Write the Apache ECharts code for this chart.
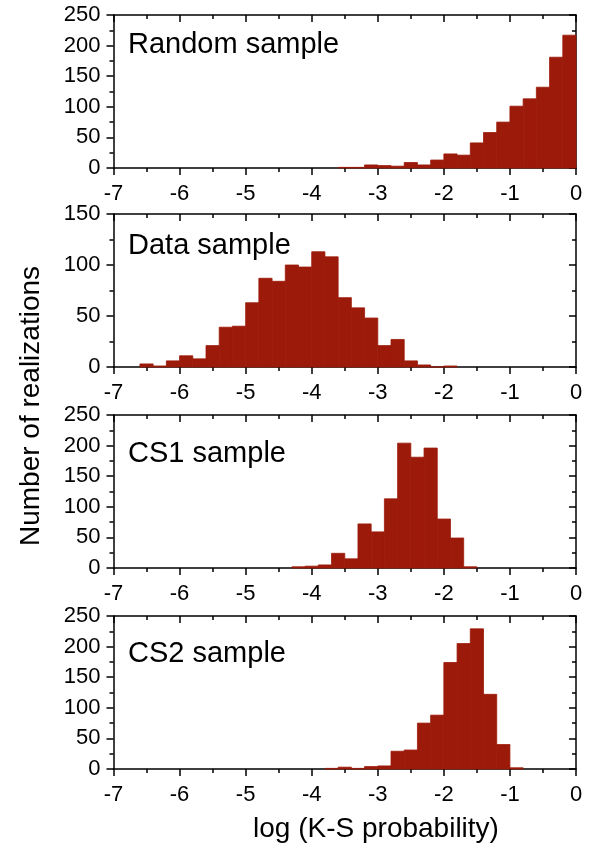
<!DOCTYPE html>
<html>
<head>
<meta charset="utf-8">
<title>K-S probability histograms</title>
<script src="https://cdn.jsdelivr.net/npm/echarts@6/dist/echarts.min.js"></script>
<style>
    html, body { margin: 0; padding: 0; background: #ffffff; }
    #grafico { width: 596px; height: 848px; }
</style>
</head>
<body>
<div id="grafico"></div>
<script>
// Datos (inicio de cada clase, ancho 0.2)
const anchoClase = 0.2;

const randomInicio = [-3.6, -3.4, -3.2, -3.0, -2.8, -2.6, -2.4, -2.2, -2.0, -1.8, -1.6, -1.4, -1.2, -1.0, -0.8, -0.6, -0.4, -0.2];
const randomCuentas = [1, 1, 5, 4, 3, 9, 5, 13, 23, 21, 41, 58, 75, 101, 113, 132, 181, 217];

const dataInicio = [-6.6, -6.4, -6.2, -6.0, -5.8, -5.6, -5.4, -5.2, -5.0, -4.8, -4.6, -4.4, -4.2, -4.0, -3.8, -3.6, -3.4, -3.2, -3.0, -2.8, -2.6, -2.4, -2.2, -2.0];
const dataCuentas = [3, 1, 6, 11, 8, 21, 39, 40, 63, 87, 84, 100, 98, 113, 108, 68, 58, 48, 21, 27, 6, 2, 0, 1];

const cs1Inicio = [-4.3, -4.1, -3.9, -3.7, -3.5, -3.3, -3.1, -2.9, -2.7, -2.5, -2.3, -2.1, -1.9, -1.7];
const cs1Cuentas = [2, 3, 5, 24, 15, 72, 59, 113, 204, 181, 196, 80, 49, 2];

const cs2Inicio = [-3.8, -3.6, -3.4, -3.2, -3.0, -2.8, -2.6, -2.4, -2.2, -2.0, -1.8, -1.6, -1.4, -1.2, -1.0];
const cs2Cuentas = [1, 3, 1, 4, 5, 29, 31, 75, 88, 174, 205, 229, 122, 40, 2];

// Paneles: etiqueta, máximo del eje y, datos
const paneles = [
    { nombre: 'Random sample', maxY: 250, inicio: randomInicio, cuentas: randomCuentas },
    { nombre: 'Data sample', maxY: 150, inicio: dataInicio, cuentas: dataCuentas },
    { nombre: 'CS1 sample', maxY: 250, inicio: cs1Inicio, cuentas: cs1Cuentas },
    { nombre: 'CS2 sample', maxY: 250, inicio: cs2Inicio, cuentas: cs2Cuentas }
];

const fuente = "'Liberation Sans', Arial, sans-serif";
const colorBarra = '#9c1a0a';
const topes = [15, 214, 415, 616];
const altoPanel = 153;
const posTexto = [30, 231, 439, 639];

const grids = [], xAxes = [], yAxes = [], series = [], textos = [];
const lineaEje = { show: true, onZero: false, lineStyle: { color: '#000', width: 1.5 } };
const marca = { color: '#000', width: 1.5 };

paneles.forEach(function (p, i) {
    grids.push({ left: 113.5, right: 20, top: topes[i], height: altoPanel });

    // Eje x inferior (con etiquetas) y superior (solo marcas)
    xAxes.push({
        type: 'value', gridIndex: i, position: 'bottom', min: -7, max: 0, interval: 1,
        axisLine: lineaEje,
        axisTick: { show: true, inside: false, length: 7, lineStyle: marca },
        minorTick: { show: true, splitNumber: 2, length: 4, lineStyle: marca },
        axisLabel: { show: true, color: '#000', fontSize: 22, fontFamily: fuente, margin: 15, showMinLabel: true, showMaxLabel: true },
        splitLine: { show: false }
    });
    xAxes.push({
        type: 'value', gridIndex: i, position: 'top', min: -7, max: 0, interval: 1,
        axisLine: lineaEje,
        axisTick: { show: true, inside: true, length: 7, lineStyle: marca },
        minorTick: { show: true, splitNumber: 2, length: 4, lineStyle: marca },
        axisLabel: { show: false },
        splitLine: { show: false }
    });

    // Eje y izquierdo (con etiquetas) y derecho (solo marcas)
    yAxes.push({
        type: 'value', gridIndex: i, position: 'left', min: 0, max: p.maxY, interval: 50,
        axisLine: lineaEje,
        axisTick: { show: true, inside: false, length: 7, lineStyle: marca },
        minorTick: { show: true, splitNumber: 2, length: 4, lineStyle: marca },
        axisLabel: { show: true, color: '#000', fontSize: 22, fontFamily: fuente, margin: 13, showMinLabel: true, showMaxLabel: true },
        splitLine: { show: false }
    });
    yAxes.push({
        type: 'value', gridIndex: i, position: 'right', min: 0, max: p.maxY, interval: 50,
        axisLine: lineaEje,
        axisTick: { show: true, inside: true, length: 7, lineStyle: marca },
        minorTick: { show: true, splitNumber: 2, length: 4, lineStyle: marca },
        axisLabel: { show: false },
        splitLine: { show: false }
    });

    // Histograma: cada barra va del inicio de la clase al inicio + ancho
    series.push({
        type: 'custom',
        xAxisIndex: 2 * i,
        yAxisIndex: 2 * i,
        data: p.inicio.map((x, k) => [x, p.cuentas[k]]),
        encode: { x: 0, y: 1 },
        renderItem: function (params, api) {
            const x0 = api.value(0);
            const h = api.value(1);
            const a = api.coord([x0, h]);
            const b = api.coord([x0 + anchoClase, 0]);
            return {
                type: 'rect',
                shape: { x: a[0], y: a[1], width: b[0] - a[0], height: b[1] - a[1] },
                style: { fill: colorBarra, stroke: colorBarra, lineWidth: 0.8 }
            };
        },
        z: 1
    });

    // Etiqueta del panel
    textos.push({
        type: 'text',
        left: 128,
        top: posTexto[i],
        style: { text: p.nombre, fontSize: 29, fontFamily: fuente, fill: '#000' }
    });
});

// Títulos de los ejes
textos.push({
    type: 'text',
    x: 31, y: 406,
    rotation: Math.PI / 2,
    style: { text: 'Number of realizations', fontSize: 28, fontFamily: fuente, fill: '#000', align: 'center', verticalAlign: 'middle' }
});
textos.push({
    type: 'text',
    x: 376, y: 829,
    style: { text: 'log (K-S probability)', fontSize: 28, fontFamily: fuente, fill: '#000', align: 'center', verticalAlign: 'middle' }
});

const grafico = echarts.init(document.getElementById('grafico'));
grafico.setOption({
    animation: false,
    backgroundColor: '#ffffff',
    grid: grids,
    xAxis: xAxes,
    yAxis: yAxes,
    series: series,
    graphic: textos
});
</script>
</body>
</html>
